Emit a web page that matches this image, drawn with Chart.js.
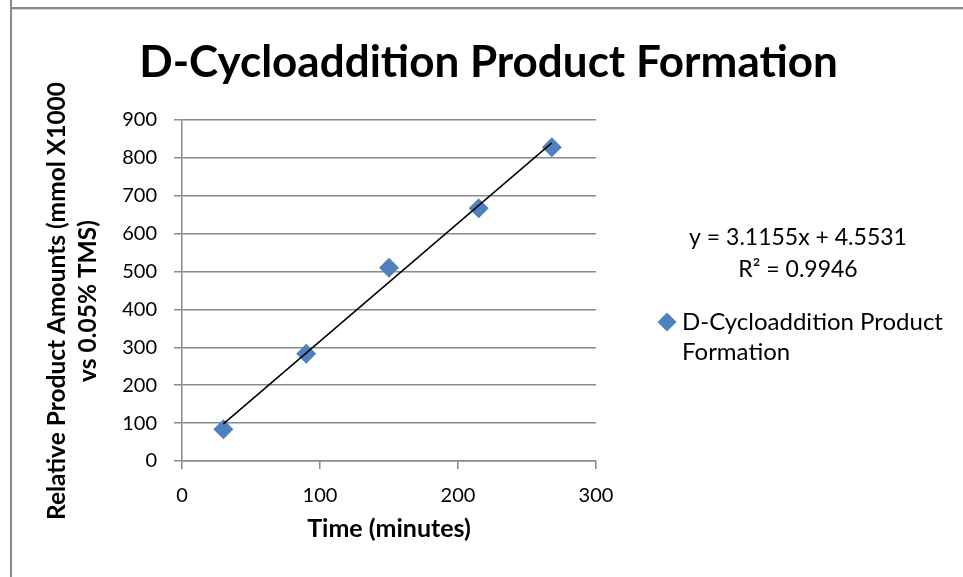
<!DOCTYPE html>
<html>
<head>
<meta charset="utf-8">
<script src="https://cdn.jsdelivr.net/npm/chart.js@4/dist/chart.umd.min.js"></script>
<style>
  html, body { margin: 0; padding: 0; background: #ffffff; }
  #wrap { position: relative; width: 963px; height: 577px; overflow: hidden; }
  #c { position: absolute; left: 0; top: 0; }
  .edgeV { position: absolute; left: 10px; top: 0; width: 2px; height: 577px; background: #8a8a8a; }
  .edgeH { position: absolute; left: 12px; top: 7px; right: 0; height: 2px; background: #8a8a8a; }
  .edgeH2 { position: absolute; left: 12px; top: 9px; right: 0; height: 1px; background: #d9d9d9; }
</style>
</head>
<body>
<div id="wrap">
  <canvas id="c" width="963" height="577"></canvas>
  <div class="edgeV"></div>
  <div class="edgeH"></div>
  <div class="edgeH2"></div>
</div>
<script>
// ---- data ----
const chartTitle = 'D-Cycloaddition Product Formation';
const seriesName = 'D-Cycloaddition Product Formation';
const timeMinutes = [30, 90, 150, 215, 268];
const productAmounts = [84, 283, 510, 667, 828];
const trendSlope = 3.1155;
const trendIntercept = 4.5531;
const rSquared = 0.9946;
const xAxisTitle = 'Time (minutes)';
const yAxisTitle = ['Relative Product Amounts (mmol X1000', 'vs 0.05% TMS)'];
const xTickRange = [0, 300, 100];
const yTickRange = [0, 900, 100];

const FONT = 'Lato, "Open Sans", "DejaVu Sans", sans-serif';
const BLUE = '#4F81BD';
const GRID = '#8a8a8a';

const scatterPoints = timeMinutes.map((t, i) => ({ x: t, y: productAmounts[i] }));
const xMin = Math.min(...timeMinutes), xMax = Math.max(...timeMinutes);
const trendPoints = [xMin, xMax].map(x => ({ x: x, y: trendSlope * x + trendIntercept }));

const sideNotes = {
  id: 'sideNotes',
  afterDraw(chart) {
    const ctx = chart.ctx;
    const a = chart.chartArea;
    ctx.save();
    // y-axis title (two centred lines, rotated)
    ctx.save();
    ctx.translate(65, 301);
    ctx.rotate(-Math.PI / 2);
    ctx.fillStyle = '#000';
    ctx.font = 'bold 24.5px ' + FONT;
    ctx.textAlign = 'center';
    ctx.textBaseline = 'alphabetic';
    yAxisTitle.forEach((line, i) => ctx.fillText(line, 0, i * 31));
    ctx.restore();

    ctx.fillStyle = '#000';
    ctx.font = '23px ' + FONT;
    ctx.textAlign = 'center';
    ctx.textBaseline = 'middle';
    const cx = a.right + 202;
    ctx.fillText('y = ' + trendSlope + 'x + ' + trendIntercept, cx, 238);
    ctx.fillText('R\u00B2 = ' + rSquared, cx, 270);
    // legend entry
    const mx = a.right + 71, my = 322, r = 9.5;
    ctx.fillStyle = BLUE;
    ctx.beginPath();
    ctx.moveTo(mx - r, my); ctx.lineTo(mx, my - r); ctx.lineTo(mx + r, my); ctx.lineTo(mx, my + r);
    ctx.closePath(); ctx.fill();
    ctx.fillStyle = '#000';
    ctx.font = '24px ' + FONT;
    ctx.textAlign = 'left';
    const words = seriesName.split(' ');
    ctx.fillText(words.slice(0, 2).join(' '), a.right + 86, 322);
    ctx.fillText(words.slice(2).join(' '), a.right + 86, 352);
    ctx.restore();
  }
};

new Chart(document.getElementById('c'), {
  type: 'scatter',
  data: {
    datasets: [
      {
        label: 'Linear trend',
        data: trendPoints,
        showLine: true,
        borderColor: '#000000',
        borderWidth: 1.5,
        pointRadius: 0,
        fill: false,
        order: 0
      },
      {
        label: seriesName,
        data: scatterPoints,
        pointStyle: 'rectRot',
        pointRadius: 10,
        pointBackgroundColor: BLUE,
        pointBorderColor: BLUE,
        pointBorderWidth: 0,
        showLine: false,
        order: 1
      }
    ]
  },
  options: {
    responsive: false,
    devicePixelRatio: 1,
    animation: false,
    layout: { padding: { left: 14, top: 10, right: 0, bottom: 0 } },
    plugins: {
      legend: { display: false },
      tooltip: { enabled: false },
      title: {
        display: true,
        text: chartTitle,
        color: '#000',
        font: { family: FONT, size: 44, weight: 'bold', lineHeight: 1.2 },
        padding: { top: 26.6, bottom: 30.6 }
      }
    },
    scales: {
      x: {
        type: 'linear',
        position: 'bottom',
        min: xTickRange[0], max: xTickRange[1],
        ticks: { stepSize: xTickRange[2], color: '#000', padding: 15, font: { family: FONT, size: 20, lineHeight: 1.2 } },
        grid: { drawOnChartArea: false, tickLength: 8, color: GRID, lineWidth: 1.5 },
        border: { color: GRID, width: 1.5 },
        title: {
          display: true, text: xAxisTitle, color: '#000',
          font: { family: FONT, size: 25, weight: 'bold', lineHeight: 1.2 },
          padding: { top: 0, bottom: 33 }
        },
        afterFit(s) { s.height = 116; }
      },
      y: {
        type: 'linear',
        position: 'left',
        min: yTickRange[0], max: yTickRange[1],
        ticks: { stepSize: yTickRange[2], color: '#000', padding: 17, font: { family: FONT, size: 20, lineHeight: 1.2 } },
        grid: { tickLength: 8, color: GRID, lineWidth: 1.5 },
        border: { color: GRID, width: 1.5 },
        title: { display: false },
        afterFit(s) { s.width = 168; }
      },
      side: {
        type: 'linear',
        position: 'right',
        display: true,
        ticks: { display: false },
        grid: { display: false },
        border: { display: false },
        afterFit(s) { s.width = 367; }
      }
    }
  },
  plugins: [sideNotes]
});
</script>
</body>
</html>
